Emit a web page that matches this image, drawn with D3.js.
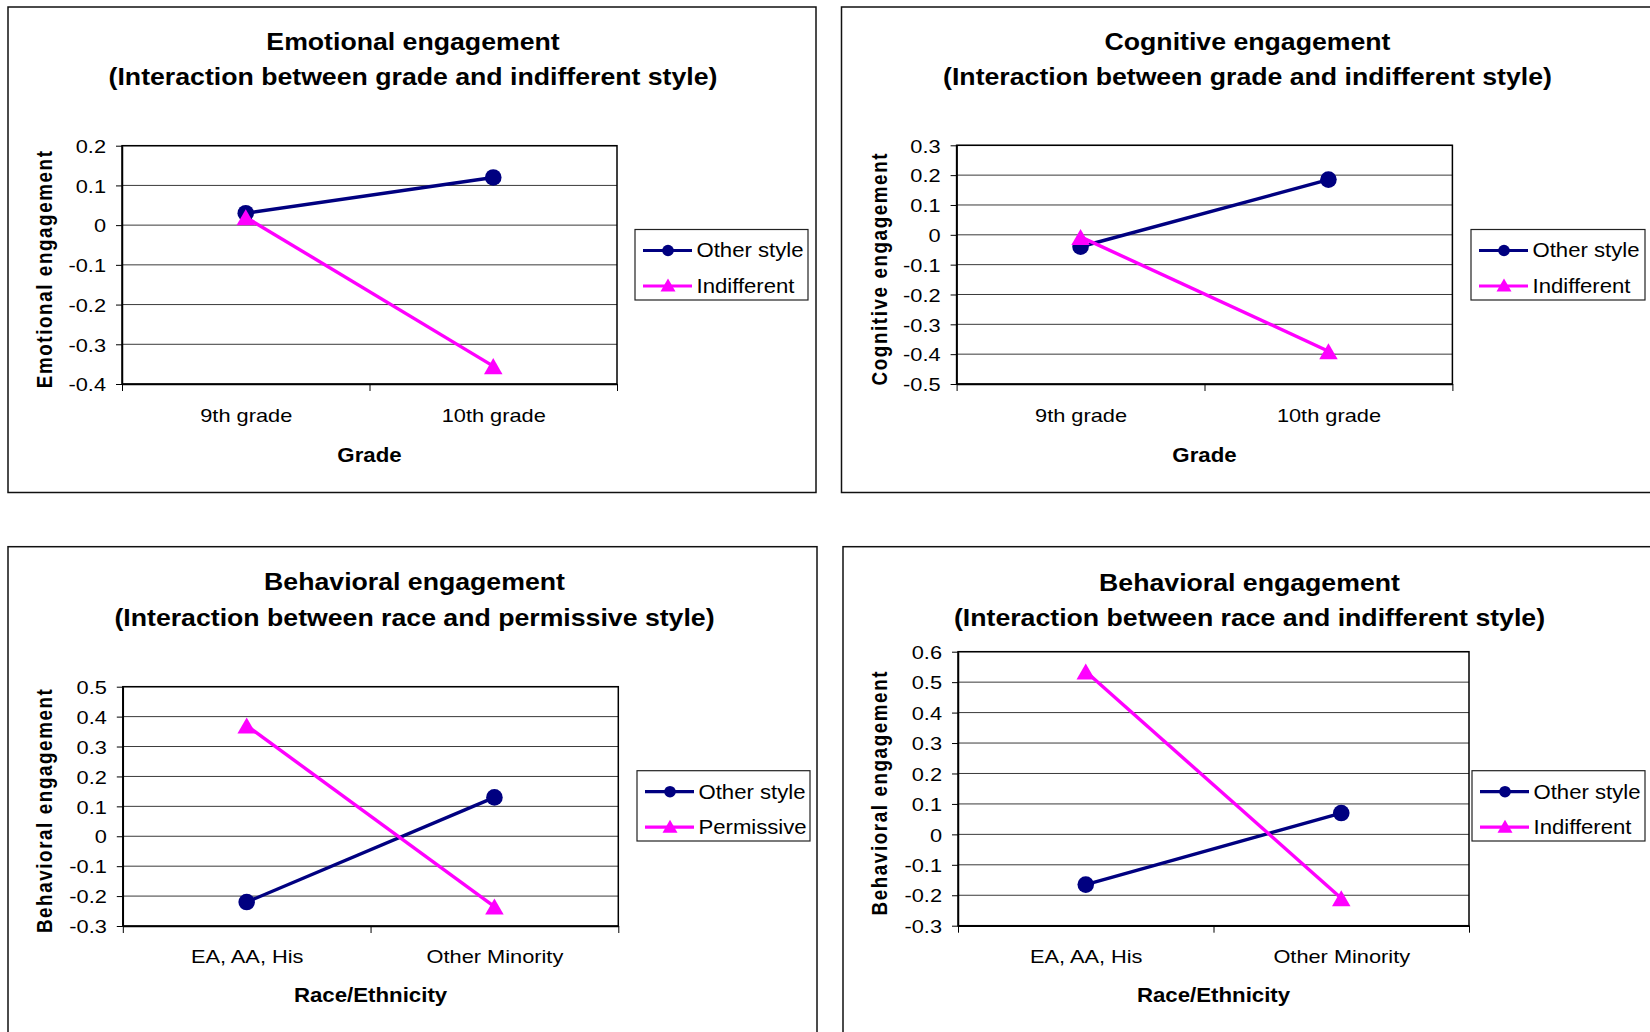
<!DOCTYPE html>
<html><head><meta charset="utf-8">
<script src="https://cdn.jsdelivr.net/npm/d3@7"></script>
<style>
body{margin:0;background:#fff}
svg{display:block}
text{font-family:"Liberation Sans",Arial,Helvetica,sans-serif;fill:#000}
</style>
</head><body>
<svg id="c" width="1650" height="1032"></svg>
<script>
// ---------- DATA ----------
const gradeCategories = ["9th grade", "10th grade"];
const raceCategories = ["EA, AA, His", "Other Minority"];

const emotionalOther = [0.03, 0.12];
const emotionalIndifferent = [0.02, -0.355];
const cognitiveOther = [-0.04, 0.185];
const cognitiveIndifferent = [-0.007, -0.39];
const behavioralPermOther = [-0.22, 0.13];
const behavioralPermissive = [0.37, -0.235];
const behavioralIndOther = [-0.165, 0.07];
const behavioralIndifferent = [0.535, -0.21];

const emotionalTicks = [-0.4, -0.3, -0.2, -0.1, 0, 0.1, 0.2];
const cognitiveTicks = [-0.5, -0.4, -0.3, -0.2, -0.1, 0, 0.1, 0.2, 0.3];
const behavioralPermTicks = [-0.3, -0.2, -0.1, 0, 0.1, 0.2, 0.3, 0.4, 0.5];
const behavioralIndTicks = [-0.3, -0.2, -0.1, 0, 0.1, 0.2, 0.3, 0.4, 0.5, 0.6];

const seriesNamesA = ["Other style", "Indifferent"];
const seriesNamesB = ["Other style", "Permissive"];

const titles1 = ["Emotional engagement", "(Interaction between grade and indifferent style)"];
const titles2 = ["Cognitive engagement", "(Interaction between grade and indifferent style)"];
const titles3 = ["Behavioral engagement", "(Interaction between race and permissive style)"];
const titles4 = ["Behavioral engagement", "(Interaction between race and indifferent style)"];

// ---------- STYLE / LAYOUT ----------
const SX = 1.135;           // horizontal text stretch of the reference
const NAVY = "#000080", MAG = "#FF00FF";
const TICK_FS = 19.2;
const svg = d3.select("#c");

const panels = [
  {frame:[8,7,816,492.5], tcx:413, ty:[41.7,76.7], plot:[122,145.7,617,384], legend:[635,229.5,808,300],
   ycx:45, xlY:415, xtY:455, titles:titles1, yTitle:"Emotional engagement", xTitle:"Grade",
   cats:gradeCategories, ticks:emotionalTicks, s1:emotionalOther, s2:emotionalIndifferent, names:seriesNamesA},
  {frame:[841.5,7,1654,492.5], tcx:1247.5, ty:[41.7,76.7], plot:[956.6,145.3,1452.4,384], legend:[1471,229.5,1645,300],
   ycx:880, xlY:415, xtY:455, titles:titles2, yTitle:"Cognitive engagement", xTitle:"Grade",
   cats:gradeCategories, ticks:cognitiveTicks, s1:cognitiveOther, s2:cognitiveIndifferent, names:seriesNamesA},
  {frame:[8,546.7,817,1045], tcx:414.5, ty:[581.7,617.3], plot:[122.8,686.7,618.3,926], legend:[637,770.7,810,841],
   ycx:45, xlY:956.7, xtY:995.5, titles:titles3, yTitle:"Behavioral engagement", xTitle:"Race/Ethnicity",
   cats:raceCategories, ticks:behavioralPermTicks, s1:behavioralPermOther, s2:behavioralPermissive, names:seriesNamesB},
  {frame:[843,546.7,1656,1045], tcx:1249.5, ty:[582.7,617.3], plot:[958,651.7,1469,925.7], legend:[1472,770.7,1645,841],
   ycx:880, xlY:956.7, xtY:995.5, titles:titles4, yTitle:"Behavioral engagement", xTitle:"Race/Ethnicity",
   cats:raceCategories, ticks:behavioralIndTicks, s1:behavioralIndOther, s2:behavioralIndifferent, names:seriesNamesA}
];

function stext(g, x, y, str, size, weight, anchor) {
  return g.append("text")
    .attr("transform", `translate(${x},${y}) scale(${SX},1)`)
    .attr("dy", "0.35em")
    .attr("text-anchor", anchor || "middle")
    .style("font-size", size + "px")
    .style("font-weight", weight || "normal")
    .text(str);
}
function triPath(cx, cy, s) {
  const h = s * 0.866;
  return `M${cx},${cy - h/2}L${cx + s/2},${cy + h/2}L${cx - s/2},${cy + h/2}Z`;
}
const fmt = d => (Math.abs(d) < 1e-9 ? "0" : String(+d.toFixed(1)));

panels.forEach(p => {
  const g = svg.append("g");
  const [fx0, fy0, fx1, fy1] = p.frame;
  g.append("rect").attr("x", fx0).attr("y", fy0).attr("width", fx1 - fx0).attr("height", fy1 - fy0)
    .attr("fill", "#fff").attr("stroke", "#111").attr("stroke-width", 1.5);

  // titles
  p.titles.forEach((t, i) => stext(g, p.tcx, p.ty[i], t, 23.5, "bold"));

  const [px0, py0, px1, py1] = p.plot;
  const y = d3.scaleLinear().domain(d3.extent(p.ticks)).range([py1, py0]);
  const x = d3.scalePoint().domain(p.cats).range([px0, px1]).padding(0.5);
  const xb = d3.scaleLinear().domain([0, p.cats.length]).range([px0, px1]);

  // gridlines
  g.append("g").selectAll("line").data(p.ticks).join("line")
    .attr("x1", px0).attr("x2", px1).attr("y1", d => y(d)).attr("y2", d => y(d))
    .attr("stroke", "#3a3a3a").attr("stroke-width", 1);
  // plot border
  g.append("rect").attr("x", px0).attr("y", py0).attr("width", px1 - px0).attr("height", py1 - py0)
    .attr("fill", "none").attr("stroke", "#000").attr("stroke-width", 1.5);

  // y axis
  const ya = g.append("g").attr("transform", `translate(${px0},0)`)
    .call(d3.axisLeft(y).tickValues(p.ticks).tickFormat(fmt).tickSize(6).tickSizeOuter(0));
  ya.select(".domain").attr("stroke", "#000").attr("stroke-width", 1.5);
  ya.selectAll(".tick line").attr("stroke", "#000");
  ya.selectAll(".tick text")
    .attr("x", -16 / SX).attr("dy", "0.35em")
    .attr("transform", `scale(${SX},1)`)
    .style("font-size", TICK_FS + "px").style("font-family", '"Liberation Sans",Arial,sans-serif');

  // x axis: boundary ticks
  const xa = g.append("g").attr("transform", `translate(0,${py1})`)
    .call(d3.axisBottom(xb).tickValues(d3.range(p.cats.length + 1)).tickFormat("").tickSize(7).tickSizeOuter(0));
  xa.select(".domain").attr("stroke", "#000").attr("stroke-width", 1.5);
  xa.selectAll(".tick line").attr("stroke", "#000");
  // x axis: category labels
  const xl = g.append("g").attr("transform", `translate(0,${py1})`)
    .call(d3.axisBottom(x).tickSize(0));
  xl.select(".domain").remove();
  xl.selectAll(".tick text")
    .attr("y", p.xlY - py1).attr("dy", "0.35em")
    .attr("transform", `scale(${SX},1)`)
    .style("font-size", TICK_FS + "px").style("font-family", '"Liberation Sans",Arial,sans-serif');

  // axis titles
  stext(g, (px0 + px1) / 2, p.xtY, p.xTitle, 19.6, "bold");
  g.append("text")
    .attr("transform", `translate(${p.ycx},${(py0 + py1) / 2 + 4}) scale(${SX},1) rotate(-90)`)
    .attr("dy", "0.35em").attr("text-anchor", "middle")
    .style("font-size", "18.8px").style("font-weight", "bold").style("letter-spacing", "1.6px")
    .text(p.yTitle);

  // series
  const line = d3.line().x((d, i) => x(p.cats[i])).y(d => y(d));
  g.append("path").datum(p.s1).attr("d", line).attr("fill", "none").attr("stroke", NAVY).attr("stroke-width", 3.4);
  g.append("path").datum(p.s2).attr("d", line).attr("fill", "none").attr("stroke", MAG).attr("stroke-width", 3.4);
  g.append("g").selectAll("circle").data(p.s1).join("circle")
    .attr("cx", (d, i) => x(p.cats[i])).attr("cy", d => y(d)).attr("r", 8.3).attr("fill", NAVY);
  g.append("g").selectAll("path").data(p.s2).join("path")
    .attr("d", (d, i) => triPath(x(p.cats[i]), y(d), 18.5)).attr("fill", MAG);

  // legend
  const [lx0, ly0, lx1, ly1] = p.legend;
  g.append("rect").attr("x", lx0).attr("y", ly0).attr("width", lx1 - lx0).attr("height", ly1 - ly0)
    .attr("fill", "#fff").attr("stroke", "#222").attr("stroke-width", 1.2);
  const ey = [ly0 + 21, ly0 + 56.5];
  [NAVY, MAG].forEach((col, i) => {
    g.append("line").attr("x1", lx0 + 8).attr("x2", lx0 + 57).attr("y1", ey[i]).attr("y2", ey[i])
      .attr("stroke", col).attr("stroke-width", 3.2);
    if (i === 0) g.append("circle").attr("cx", lx0 + 33).attr("cy", ey[i]).attr("r", 5.8).attr("fill", col);
    else g.append("path").attr("d", triPath(lx0 + 33, ey[i] - 1, 15)).attr("fill", col);
    stext(g, lx0 + 61.5, ey[i], p.names[i], 19.5, "normal", "start");
  });
});
</script>
</body></html>
